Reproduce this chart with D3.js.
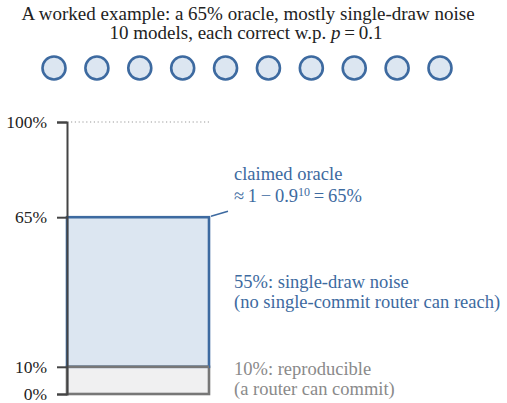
<!DOCTYPE html>
<html>
<head>
<meta charset="utf-8">
<script src="https://cdn.jsdelivr.net/npm/d3@7"></script>
<style>
  body { margin: 0; background: #fff; }
</style>
</head>
<body>
<script>
// data
var titleLines = ["A worked example: a 65% oracle, mostly single-draw noise"];
var models = d3.range(10);                 // 10 models
var segments = [
  {name: "reproducible", from: 0, to: 10, fill: "#f0f0f1", stroke: "#777777"},
  {name: "noise", from: 10, to: 65, fill: "#dce6f1", stroke: "#3d6aa0"}
];
var tickValues = [0, 10, 65, 100];
var oracle = 65;

var width = 507, height = 403;
var blue = "#3d6aa0", gray = "#8a8a8a";
var serif = "'Liberation Serif'";

var svg = d3.select("body").append("svg")
    .attr("width", width)
    .attr("height", height);

// title
svg.append("text")
    .attr("x", 248).attr("y", 20)
    .attr("text-anchor", "middle")
    .style("font-family", serif)
    .style("font-size", "19px").attr("fill", "#222")
    .text(titleLines[0]);

var sub = svg.append("text")
    .attr("x", 246).attr("y", 39)
    .attr("text-anchor", "middle")
    .style("font-family", serif)
    .style("font-size", "19px").attr("fill", "#222");
sub.append("tspan").text("10 models, each correct w.p. ");
sub.append("tspan").style("font-style", "italic").text("p");
sub.append("tspan").text("\u2009=\u20090.1");

// model circles
var xm = d3.scalePoint().domain(models).range([54, 440]);
svg.selectAll(".model")
    .data(models)
  .enter().append("circle")
    .attr("class", "model")
    .attr("cx", function(d) { return xm(d); })
    .attr("cy", 68)
    .attr("r", 11.5)
    .attr("fill", "#dce6f1")
    .attr("stroke", blue)
    .attr("stroke-width", 2.6);

// scales
var y = d3.scaleLinear().domain([0, 100]).range([394, 122]);
var x0 = 67, x1 = 209;

// dotted 100% line
svg.append("line")
    .attr("x1", x0 + 4).attr("x2", x1)
    .attr("y1", y(100)).attr("y2", y(100))
    .attr("stroke", "#999")
    .attr("stroke-width", 1.2)
    .attr("stroke-dasharray", "1.2,2.6");

// bar segments
svg.selectAll(".seg")
    .data(segments)
  .enter().append("rect")
    .attr("class", "seg")
    .attr("x", x0)
    .attr("width", x1 - x0)
    .attr("y", function(d) { return y(d.to); })
    .attr("height", function(d) { return y(d.from) - y(d.to); })
    .attr("fill", function(d) { return d.fill; })
    .attr("stroke", function(d) { return d.stroke; })
    .attr("stroke-width", 2.6);
// redraw the gray top edge over blue
svg.append("line")
    .attr("x1", x0).attr("x2", x1)
    .attr("y1", y(10)).attr("y2", y(10))
    .attr("stroke", "#777").attr("stroke-width", 2.6);

// axis
var axis = d3.axisLeft(y)
    .tickValues(tickValues)
    .tickSize(10)
    .tickPadding(10)
    .tickFormat(function(d) { return d + "%"; });
var ga = svg.append("g")
    .attr("transform", "translate(" + x0 + ",0)")
    .call(axis);
ga.attr("font-family", null);
ga.select(".domain").attr("stroke", "#444").attr("stroke-width", 2);
ga.selectAll(".tick line").attr("stroke", "#444").attr("stroke-width", 2);
ga.selectAll(".tick text")
    .style("font-family", serif)
    .style("font-size", "17.5px")
    .attr("fill", "#222");

// leader line to oracle annotation
svg.append("line")
    .attr("x1", x1 + 2).attr("y1", y(oracle) - 1)
    .attr("x2", 228).attr("y2", y(oracle) - 6)
    .attr("stroke", blue).attr("stroke-width", 1.5);

function label(lines, yy, color) {
  lines.forEach(function(l, i) {
    svg.append("text")
      .attr("x", 234).attr("y", yy + i * 19.5)
      .style("font-family", serif)
      .style("font-size", "18.5px")
      .attr("fill", color)
      .text(l);
  });
}

label(["claimed oracle"], 180, blue);
var eq = svg.append("text")
    .attr("x", 234).attr("y", 202)
    .style("font-family", serif)
    .style("font-size", "18.5px").attr("fill", blue);
eq.append("tspan").text("\u2248\u20091\u2009\u2212\u20090.9");
eq.append("tspan").attr("dy", -6).style("font-size", "12px").text("10");
eq.append("tspan").attr("dy", 6).text("\u2009=\u200965%");

label(["55%: single-draw noise", "(no single-commit router can reach)"], 288, blue);
label(["10%: reproducible", "(a router can commit)"], 375, gray);
</script>
</body>
</html>
